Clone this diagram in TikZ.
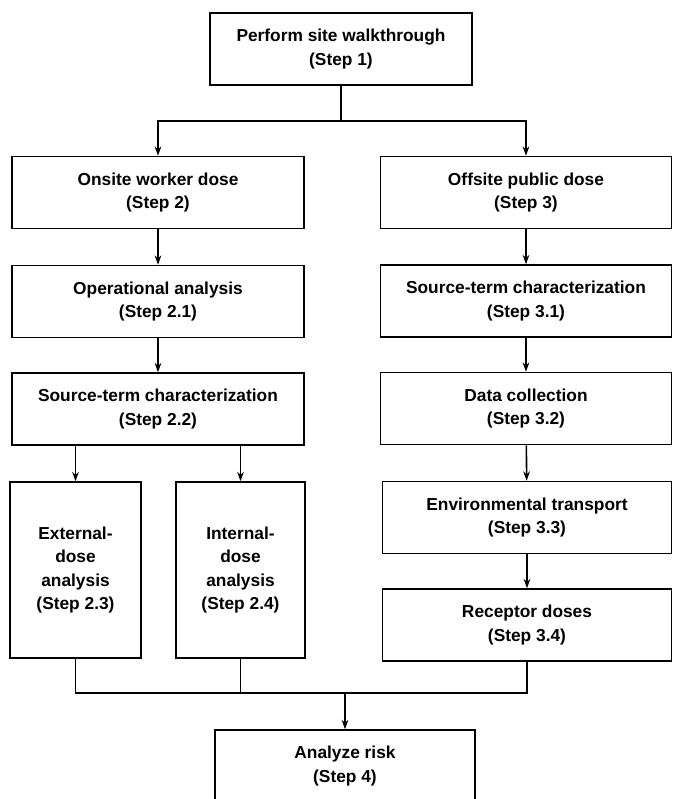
\documentclass[tikz,border=0pt]{standalone}
\usepackage{fontspec}
\setmainfont{Liberation Sans}
\usepackage{tikz}
\usetikzlibrary{arrows.meta}

\tikzset{
  stepbox/.style={draw, line width=1.2pt, minimum width=219pt, minimum height=54pt,
    align=center, inner sep=2pt, font=\bfseries\fontsize{13}{17.5}\selectfont},
  tallbox/.style={stepbox, minimum width=98pt, minimum height=132pt},
  link/.style={line width=1.2pt}
}

\begin{document}
\begin{tikzpicture}[x=0.75pt, y=-0.75pt, >={Stealth[length=7pt,width=5pt]}]
\useasboundingbox (0,0) rectangle (673,799);

  % top
  \node[stepbox, minimum width=196.5pt] (s1) at (341,49) {Perform site walkthrough\\(Step 1)};

  % onsite branch
  \node[stepbox] (s2)  at (158,192.5) {Onsite worker dose\\(Step 2)};
  \node[stepbox] (s21) at (158,301.5) {Operational analysis\\(Step 2.1)};
  \node[stepbox] (s22) at (158,409)   {Source-term characterization\\(Step 2.2)};
  \node[tallbox] (s23) at (75.5,570)  {External-\\dose\\analysis\\(Step 2.3)};
  \node[tallbox, minimum width=97pt] (s24) at (240.5,570) {Internal-\\dose\\analysis\\(Step 2.4)};

  % offsite branch
  \node[stepbox, minimum width=218pt] (s3)  at (526,192.5) {Offsite public dose\\(Step 3)};
  \node[stepbox, minimum width=218pt] (s31) at (526,301)   {Source-term characterization\\(Step 3.1)};
  \node[stepbox, minimum width=218pt] (s32) at (526,408.5) {Data collection\\(Step 3.2)};
  \node[stepbox, minimum width=217pt] (s33) at (527,517.5) {Environmental transport\\(Step 3.3)};
  \node[stepbox, minimum width=217pt] (s34) at (527,625)   {Receptor doses\\(Step 3.4)};

  % bottom
  \node[stepbox, minimum width=195pt] (s4) at (345,766) {Analyze risk\\(Step 4)};

  \draw[link] (s1.south) -- ++(0,35) coordinate (split);
  \draw[link,->] (split) -| (s2.north);
  \draw[link,->] (split) -| (s3.north);

  \draw[link,->] (s2) -- (s21);
  \draw[link,->] (s21) -- (s22);
  \draw[link,->] (s22.south -| s23.north) -- (s23.north);
  \draw[link,->] (s22.south -| s24.north) -- (s24.north);

  \draw[link,->] (s3) -- (s31);
  \draw[link,->] (s31) -- (s32);
  \draw[link,->] (s32) -- (s33);
  \draw[link,->] (s33) -- (s34);

  \coordinate (join) at (345,693);
  \draw[link] (s23.south) |- (s34.south |- join) -- (s34.south);
  \draw[link] (s24.south) -- (s24.south |- join);
  \draw[link,->] (join) -- (s4.north);
\end{tikzpicture}
\end{document}
